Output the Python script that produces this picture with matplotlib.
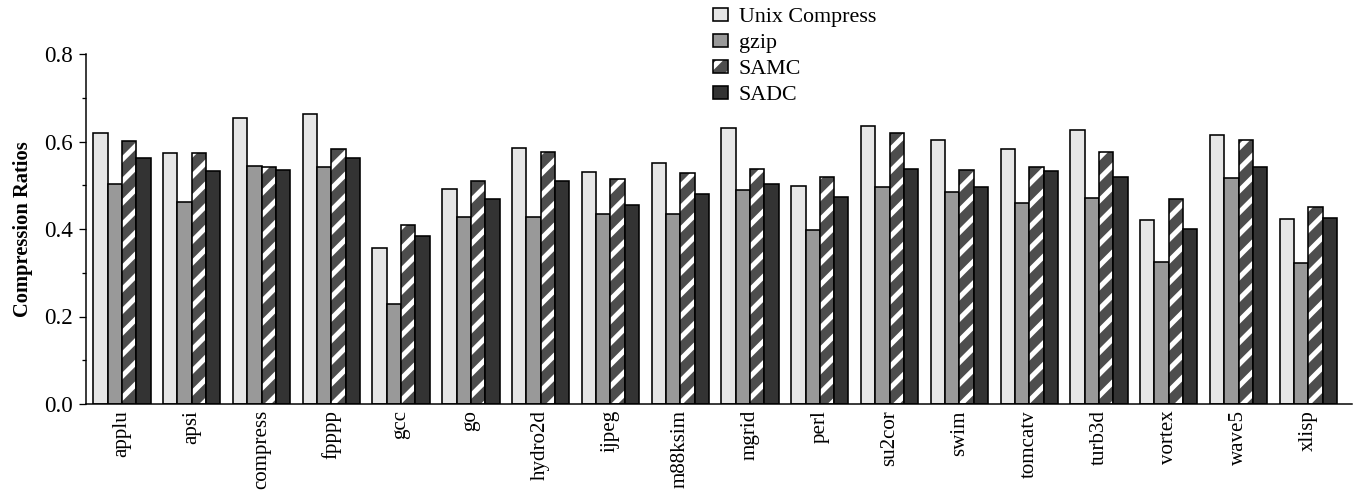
import numpy as np
import matplotlib
matplotlib.use('Agg')
from matplotlib import pyplot as plt
from matplotlib.patches import Patch
from matplotlib.legend_handler import HandlerTuple
from matplotlib.ticker import MultipleLocator

# benchmarks and compression ratios
benchmarks = ['applu', 'apsi', 'compress', 'fpppp', 'gcc', 'go', 'hydro2d', 'ijpeg',
              'm88ksim', 'mgrid', 'perl', 'su2cor', 'swim', 'tomcatv', 'turb3d',
              'vortex', 'wave5', 'xlisp']
unix_compress = [0.619, 0.574, 0.654, 0.662, 0.357, 0.492, 0.586, 0.530, 0.551,
                 0.630, 0.498, 0.635, 0.604, 0.584, 0.626, 0.421, 0.615, 0.424]
gzip = [0.504, 0.462, 0.545, 0.542, 0.228, 0.427, 0.427, 0.435, 0.435,
        0.490, 0.397, 0.495, 0.485, 0.459, 0.471, 0.325, 0.517, 0.323]
samc = [0.602, 0.574, 0.542, 0.584, 0.410, 0.509, 0.577, 0.514, 0.529,
        0.538, 0.520, 0.620, 0.534, 0.542, 0.577, 0.469, 0.603, 0.450]
sadc = [0.563, 0.533, 0.534, 0.562, 0.384, 0.469, 0.510, 0.456, 0.479,
        0.503, 0.474, 0.537, 0.496, 0.532, 0.519, 0.401, 0.542, 0.426]

DPI = 130  # bigger hatch tile -> stripe spacing like the original
def pt(px):
    return px * 72.0 / DPI

plt.rcParams['font.family'] = ['Liberation Serif', 'DejaVu Serif']
plt.rcParams['hatch.linewidth'] = pt(5)

fig = plt.figure(figsize=(1358 / DPI, 493 / DPI), dpi=DPI)
ax = fig.add_axes([86 / 1358, 89 / 493, 1266 / 1358, 350 / 493])

x = np.arange(len(benchmarks))
w = 0.205
lw = pt(1.6)

ax.bar(x - 1.5 * w, unix_compress, w, color='#e6e6e6', edgecolor='black', linewidth=lw)
ax.bar(x - 0.5 * w, gzip, w, color='#999999', edgecolor='black', linewidth=lw)
ax.bar(x + 0.5 * w, samc, w, color='#4d4d4d', edgecolor='white', hatch='//', linewidth=0)
ax.bar(x + 0.5 * w, samc, w, fill=False, edgecolor='black', linewidth=lw)
ax.bar(x + 1.5 * w, sadc, w, color='#333333', edgecolor='black', linewidth=lw)

ax.set_xlim(-0.515, 17.625)
ax.set_ylim(0, 0.8)
ax.spines['top'].set_visible(False)
ax.spines['right'].set_visible(False)
ax.spines['left'].set_linewidth(pt(1.5))
ax.spines['bottom'].set_linewidth(pt(1.5))

ax.yaxis.set_major_locator(MultipleLocator(0.2))
ax.yaxis.set_minor_locator(MultipleLocator(0.1))
ax.set_yticks([0.0, 0.2, 0.4, 0.6, 0.8])
ax.set_yticklabels(['0.0', '0.2', '0.4', '0.6', '0.8'], fontsize=pt(23))
ax.tick_params(axis='y', which='major', length=pt(7), width=pt(1.3), direction='out')
ax.tick_params(axis='y', which='minor', length=pt(4), width=pt(1.3), direction='out')
ax.set_xticks(x)
ax.set_xticklabels(benchmarks, rotation=90, fontsize=pt(21))
ax.tick_params(axis='x', length=0, pad=pt(6))
ax.set_ylabel('Compression Ratios', fontsize=pt(20.5), fontweight='bold', labelpad=pt(11))

handles = [
    Patch(facecolor='#e6e6e6', edgecolor='black', linewidth=lw),
    Patch(facecolor='#999999', edgecolor='black', linewidth=lw),
    (Patch(facecolor='#4d4d4d', edgecolor='white', hatch='//', linewidth=0),
     Patch(fill=False, edgecolor='black', linewidth=lw)),
    Patch(facecolor='#333333', edgecolor='black', linewidth=lw),
]
labels = ['Unix Compress', 'gzip', 'SAMC', 'SADC']
fig.legend(handles, labels, loc='upper left', bbox_to_anchor=(702 / 1358, 1.006),
           frameon=False, fontsize=pt(22), handlelength=0.68, handleheight=0.55,
           handletextpad=0.5, labelspacing=0.3, borderaxespad=0.1,
           handler_map={tuple: HandlerTuple(ndivide=1)})

fig.savefig('out.png', dpi=DPI)
